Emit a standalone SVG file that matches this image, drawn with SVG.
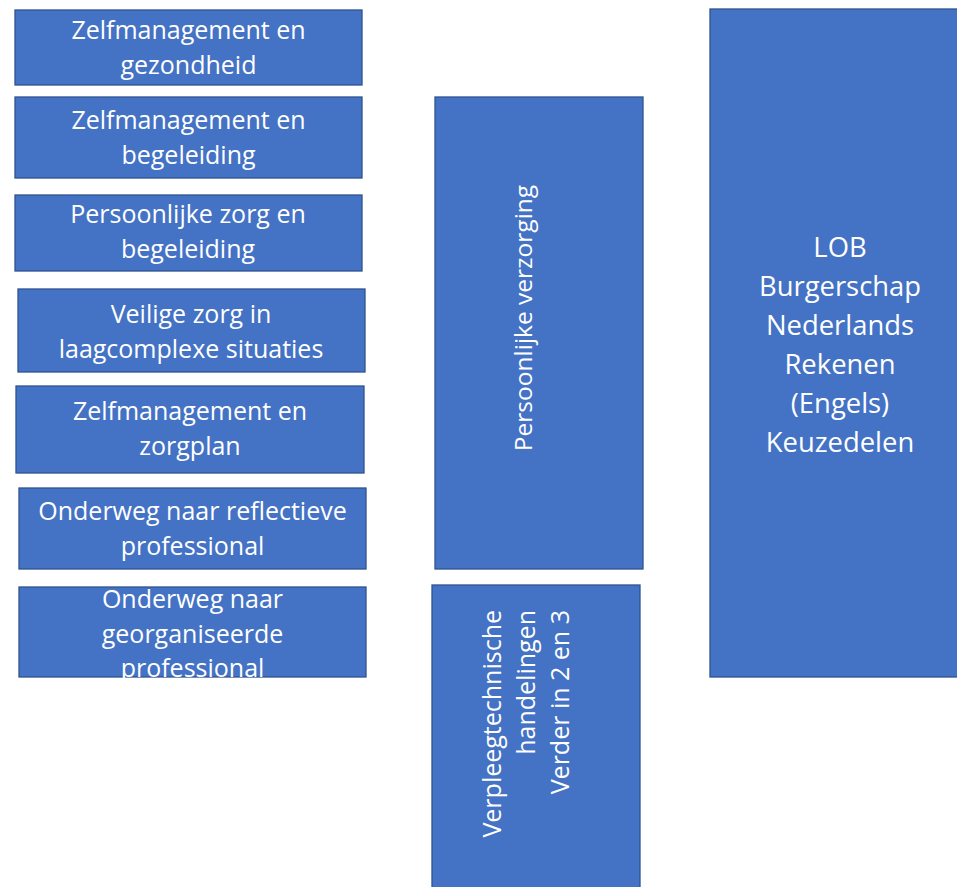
<svg xmlns="http://www.w3.org/2000/svg" width="957" height="887" viewBox="0 0 957 887">
<style>
.box{fill:#4472C4;stroke:#2F528F;stroke-width:1.3}
.t{fill:#fff;font-family:"Open Sans","Noto Sans",sans-serif;font-size:25px;text-anchor:middle}
.tb{fill:#fff;font-family:"Open Sans","Noto Sans",sans-serif;font-size:27.4px;text-anchor:middle}
</style>
<rect width="957" height="887" fill="#fff"/>
<g id="n1"><rect class="box" x="15" y="10" width="347" height="75"/>
<text class="t" x="188.5" y="39">Zelfmanagement en</text><text class="t" x="188.5" y="74">gezondheid</text></g>
<g id="n2"><rect class="box" x="15" y="97" width="347" height="81"/>
<text class="t" x="188.5" y="129">Zelfmanagement en</text><text class="t" x="188.5" y="164">begeleiding</text></g>
<g id="n3"><rect class="box" x="15" y="195" width="347" height="76"/>
<text class="t" x="188" y="223">Persoonlijke zorg en</text><text class="t" x="188" y="258">begeleiding</text></g>
<g id="n4"><rect class="box" x="18" y="289" width="347" height="83"/>
<text class="t" x="191" y="323">Veilige zorg in</text><text class="t" x="191" y="358">laagcomplexe situaties</text></g>
<g id="n5"><rect class="box" x="16" y="386" width="348" height="87"/>
<text class="t" x="190" y="420">Zelfmanagement en</text><text class="t" x="190" y="455">zorgplan</text></g>
<g id="n6"><rect class="box" x="19" y="488" width="347" height="81"/>
<text class="t" x="192.5" y="520">Onderweg naar reflectieve</text><text class="t" x="192.5" y="555">professional</text></g>
<g id="n7"><rect class="box" x="19" y="587" width="347" height="90"/>
<text class="t" x="192.5" y="608">Onderweg naar</text><text class="t" x="192.5" y="643">georganiseerde</text><text class="t" x="192.5" y="677">professional</text></g>
<g id="n8"><rect class="box" x="435" y="97" width="208" height="472"/>
<text class="t" style="font-size:24.5px" transform="translate(532,318) rotate(-90)">Persoonlijke verzorging</text></g>
<g id="n9"><rect class="box" x="432" y="585" width="208" height="310"/>
<g class="t" style="text-anchor:end" transform="translate(0,610) rotate(-90)">
<text x="0" y="501">Verpleegtechnische</text><text x="0" y="535">handelingen</text><text x="0" y="569">Verder in 2 en 3</text></g></g>
<g id="n10"><rect class="box" x="710" y="9" width="260" height="668"/>
<text class="tb" x="840" y="257">LOB</text><text class="tb" x="840" y="296">Burgerschap</text><text class="tb" x="840" y="335">Nederlands</text><text class="tb" x="840" y="374">Rekenen</text><text class="tb" x="840" y="413">(Engels)</text><text class="tb" x="840" y="452">Keuzedelen</text></g>
<g id="connectors"/>
</svg>
